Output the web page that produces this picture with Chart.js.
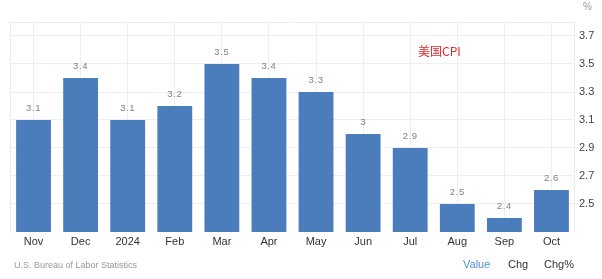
<!DOCTYPE html>
<html>
<head>
<meta charset="utf-8">
<script src="https://cdn.jsdelivr.net/npm/chart.js@4/dist/chart.umd.min.js"></script>
<style>
  html, body { margin: 0; padding: 0; background: #fff; }
  #wrap { position: relative; width: 602px; height: 279px; font-family: "Liberation Sans", Arial, sans-serif; }
  #wrap canvas { position: absolute; left: 0; top: 0; }
  .t { position: absolute; white-space: nowrap; line-height: 1; }
  #unit { left: 583px; top: 2px; font-size: 10px; color: #999; }
  #title { left: 418px; top: 45px; font-size: 12px; color: #e8262b; font-family: "Noto Sans CJK SC", "Liberation Sans", sans-serif; }
  #src { left: 14px; top: 261px; font-size: 9px; color: #999; }
  #v { left: 463px; top: 259px; font-size: 11px; color: #4a90d9; }
  #c { left: 508px; top: 259px; font-size: 11px; color: #333; }
  #cp { left: 544px; top: 259px; font-size: 11px; color: #333; }
</style>
</head>
<body>
<div id="wrap">
  <canvas id="cv" width="602" height="279"></canvas>
  <div class="t" id="unit">%</div>
  <div class="t" id="title">美国CPI</div>
  <div class="t" id="src">U.S. Bureau of Labor Statistics</div>
  <div class="t" id="v">Value</div>
  <div class="t" id="c">Chg</div>
  <div class="t" id="cp">Chg%</div>
</div>
<script>
// US CPI, year-over-year %, Nov 2023 – Oct 2024
const categories = ['Nov', 'Dec', '2024', 'Feb', 'Mar', 'Apr', 'May', 'Jun', 'Jul', 'Aug', 'Sep', 'Oct'];
const cpiValues = [3.1, 3.4, 3.1, 3.2, 3.5, 3.4, 3.3, 3.0, 2.9, 2.5, 2.4, 2.6];
const yTickValues = [2.5, 2.7, 2.9, 3.1, 3.3, 3.5, 3.7];

// Writes each bar's value just above it
const valueLabels = {
  id: 'valueLabels',
  afterDatasetsDraw(chart) {
    const ctx = chart.ctx;
    const meta = chart.getDatasetMeta(0);
    ctx.save();
    ctx.font = '9.5px "Liberation Sans", Arial, sans-serif';
    ctx.letterSpacing = '0.6px';
    ctx.fillStyle = '#808080';
    ctx.textAlign = 'center';
    ctx.textBaseline = 'bottom';
    meta.data.forEach((bar, i) => {
      ctx.fillText(String(cpiValues[i]), bar.x, bar.y - 7);
    });
    ctx.restore();
  }
};

// Faint frame around the plotting area
const plotFrame = {
  id: 'plotFrame',
  beforeDatasetsDraw(chart) {
    const { ctx, chartArea: a } = chart;
    ctx.save();
    ctx.strokeStyle = '#ececec';
    ctx.lineWidth = 1;
    ctx.beginPath();
    ctx.moveTo(a.left + 0.5, a.bottom);
    ctx.lineTo(a.left + 0.5, a.top + 0.5);
    ctx.lineTo(a.right - 0.5, a.top + 0.5);
    ctx.lineTo(a.right - 0.5, a.bottom);
    ctx.stroke();
    ctx.restore();
  }
};

new Chart(document.getElementById('cv'), {
  type: 'bar',
  data: {
    labels: categories,
    datasets: [{
      data: cpiValues,
      backgroundColor: '#4b7dbd',
      barPercentage: 0.74,
      categoryPercentage: 1.0
    }]
  },
  options: {
    responsive: false,
    animation: false,
    layout: { padding: { left: 10, top: 22, right: 0, bottom: 0 } },
    plugins: { legend: { display: false }, tooltip: { enabled: false } },
    scales: {
      x: {
        grid: { display: true, offset: false, color: '#efefef', drawTicks: false },
        border: { display: false },
        ticks: {
          color: '#333',
          padding: 3,
          font: { family: '"Liberation Sans", Arial, sans-serif', size: 11 },
          maxRotation: 0,
          autoSkip: false
        },
        afterFit(s) { s.height = 47; }
      },
      y: {
        position: 'right',
        min: 2.3,
        max: 3.8,
        afterBuildTicks(s) { s.ticks = yTickValues.map(v => ({ value: v })); },
        grid: { color: '#efefef', drawTicks: false },
        border: { display: false },
        ticks: {
          color: '#444',
          padding: 4,
          font: { family: '"Liberation Sans", Arial, sans-serif', size: 11 },
          callback: v => v.toFixed(1)
        },
        afterFit(s) { s.width = 27; }
      }
    }
  },
  plugins: [plotFrame, valueLabels]
});
</script>
</body>
</html>
